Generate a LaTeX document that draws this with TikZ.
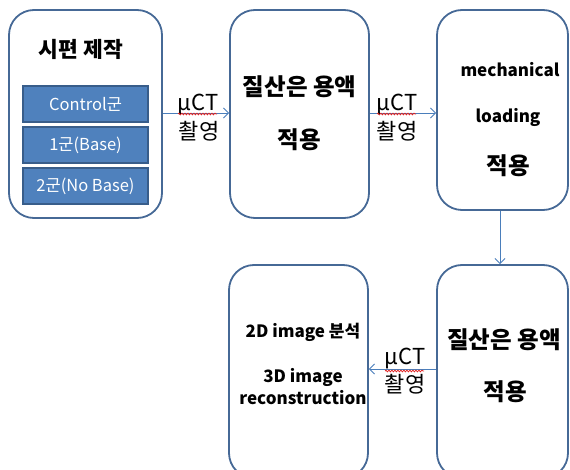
\documentclass[tikz,border=0pt]{standalone}
\usepackage{fontspec}
\setmainfont{Noto Sans CJK KR}
\usetikzlibrary{arrows.meta,decorations.pathmorphing}
\definecolor{edge}{RGB}{70,105,150}
\definecolor{fillblue}{RGB}{79,129,189}
\definecolor{darkedge}{RGB}{56,93,138}
\definecolor{arrowc}{RGB}{74,126,187}
\definecolor{wavy}{RGB}{225,30,30}
\tikzset{
  bigbox/.style={draw=edge, line width=1.8pt, rounded corners=25pt, fill=white, inner sep=0pt},
  subbox/.style={draw=darkedge, line width=1.3pt, fill=fillblue, text=white, minimum width=125pt, minimum height=36pt, inner sep=0pt, font=\fontsize{16.5}{18}\selectfont},
  title/.style={font=\bfseries\fontsize{23.5}{26}\selectfont, inner sep=0pt},
  titleone/.style={font=\bfseries\fontsize{21.5}{24}\selectfont, inner sep=0pt},
  small/.style={font=\bfseries\fontsize{17}{19}\selectfont, inner sep=0pt},
  lbl/.style={font=\fontsize{22}{24}\selectfont, inner sep=0pt},
  conn/.style={draw=arrowc, line width=0.9pt, -{Straight Barb[length=5pt,width=10pt]}},
  squiggle/.style={draw=wavy, line width=0.7pt, decorate, decoration={snake, amplitude=0.9pt, segment length=3pt}}
}
\begin{document}
\begin{tikzpicture}[x=1pt,y=-1pt]
\useasboundingbox (0,0) rectangle (570,470);
% big boxes
\node[bigbox, minimum width=153pt, minimum height=208pt] (b1) at (85.5,114) {};
\node[bigbox, minimum width=139pt, minimum height=208pt] (b2) at (299.5,114) {};
\node[bigbox, minimum width=131pt, minimum height=200pt] (b3) at (502.5,110) {};
\node[bigbox, minimum width=131pt, minimum height=213pt] (b4) at (502.5,371.5) {};
\node[bigbox, minimum width=139pt, minimum height=213pt] (b5) at (298.5,371.5) {};
% box 1 content
\node[titleone] (t1) at (81,49) {시편 제작};
\node[subbox] (s1) at (85.5,104) {Control군};
\node[subbox] (s2) at (85.5,145) {1군(Base)};
\node[subbox] (s3) at (85.5,186) {2군(No Base)};
% box 2
\node[title] (t2a) at (299.5,87) {질산은 용액};
\node[title] (t2b) at (299.5,140) {적용};
% box 3
\node[small] (t3a) at (510,70) {mechanical};
\node[small] (t3b) at (508,117) {loading};
\node[title] (t3c) at (508,166) {적용};
% box 4
\node[title] (t4a) at (504,340) {질산은 용액};
\node[title] (t4b) at (505,392) {적용};
% box 5
\node[small] (t5a) at (303,332) {2D image 분석};
\node[small] (t5b) at (303,377) {3D image};
\node[small] (t5c) at (303,398) {reconstruction};
% connectors
\coordinate (a1s) at (b1.east |- 0,113);
\coordinate (a1e) at (b2.west |- 0,113);
\draw[conn] (a1s) -- (a1e);
\coordinate (a2s) at (b2.east |- 0,113);
\coordinate (a2e) at (b3.west |- 0,113);
\draw[conn] (a2s) -- (a2e);
\coordinate (a3x) at (500,0);
\draw[conn] (b3.south -| a3x) -- (b4.north -| a3x);
\coordinate (a4s) at (b4.west |- 0,369);
\coordinate (a4e) at (b5.east |- 0,369);
\draw[conn] (a4s) -- (a4e);
% labels
\node[lbl] (m1) at (198,104) {µCT};
\node[lbl] (c1) at (199,131) {촬영};
\node[lbl] (m2) at (397,104) {µCT};
\node[lbl] (c2) at (397,131) {촬영};
\node[lbl] (m3) at (405,358) {µCT};
\node[lbl] (c3) at (405,384) {촬영};
\coordinate (w1a) at (178,114); \coordinate (w1b) at (217,114);
\coordinate (w2a) at (377,114); \coordinate (w2b) at (416,114);
\coordinate (w3a) at (385,371); \coordinate (w3b) at (424,371);
\draw[squiggle] (w1a) -- (w1b);
\draw[squiggle] (w2a) -- (w2b);
\draw[squiggle] (w3a) -- (w3b);
\end{tikzpicture}
\end{document}
